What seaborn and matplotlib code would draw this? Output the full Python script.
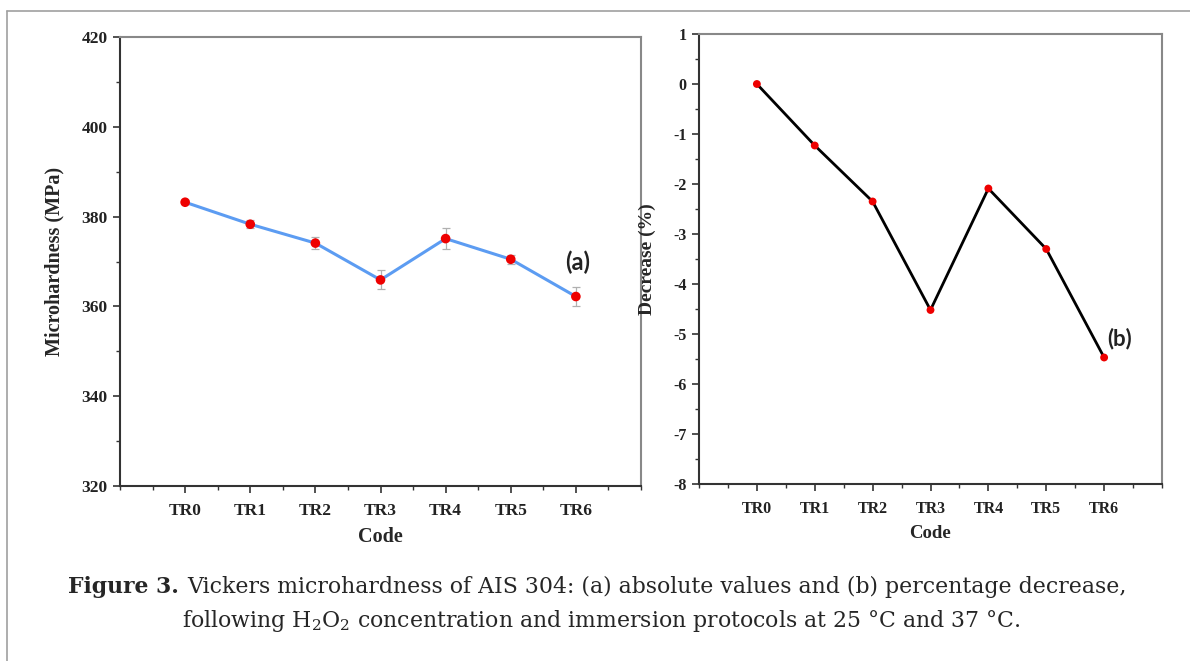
import matplotlib
matplotlib.use("Agg")
import matplotlib.pyplot as plt
import seaborn as sns
import pandas as pd
from matplotlib.lines import Line2D
from matplotlib.ticker import MultipleLocator

codes = ["TR0", "TR1", "TR2", "TR3", "TR4", "TR5", "TR6"]
hardness = [383.2, 378.3, 374.1, 365.9, 375.1, 370.5, 362.2]
hardness_err = [0.5, 0.9, 1.3, 2.1, 2.3, 1.0, 2.1]
decrease = [0.0, -1.23, -2.35, -4.52, -2.09, -3.30, -5.47]

sns.set_theme(style="ticks")
plt.rcParams["font.family"] = ["Liberation Serif", "DejaVu Serif"]
plt.rcParams["mathtext.fontset"] = "dejavuserif"
plt.rcParams["axes.unicode_minus"] = False

df = pd.DataFrame({"Code": codes, "Hardness": hardness, "Err": hardness_err, "Decrease": decrease})

fig = plt.figure(figsize=(11.9, 6.61), dpi=100)
fig.patch.set_facecolor("white")

# page border lines
fig.add_artist(Line2D([7/1190, 7/1190], [0, 1 - 11/661], transform=fig.transFigure, color="#a0a0a0", lw=1.2))
fig.add_artist(Line2D([7/1190, 1], [1 - 11/661, 1 - 11/661], transform=fig.transFigure, color="#a0a0a0", lw=1.2))

axA = fig.add_axes([120/1190, 1 - 486/661, 521/1190, 449/661])
axB = fig.add_axes([699/1190, 1 - 484/661, 463/1190, 450/661])

# panel (a)
axA.errorbar(range(len(codes)), df["Hardness"], yerr=df["Err"], fmt="none",
             ecolor="#b0b0b0", elinewidth=0.9, capsize=3, capthick=0.9, zorder=1)
sns.lineplot(data=df, x="Code", y="Hardness", ax=axA, color="#5c9cf2", lw=2.2, sort=False, zorder=2)
sns.scatterplot(data=df, x="Code", y="Hardness", ax=axA, color="#ee0000", s=48, edgecolor="none", zorder=3)
axA.set_ylim(320, 420)
axA.yaxis.set_major_locator(MultipleLocator(20))
axA.yaxis.set_minor_locator(MultipleLocator(10))
axA.set_ylabel("Microhardness (MPa)", fontsize=14.5, fontweight="bold", labelpad=12)
axA.text(5.84, 369.9, "(a)", fontsize=17, fontweight="bold", family="Lato", color="#222222", va="center")

# panel (b)
sns.lineplot(data=df, x="Code", y="Decrease", ax=axB, color="black", lw=2.0, sort=False, zorder=2)
sns.scatterplot(data=df, x="Code", y="Decrease", ax=axB, color="#ee0000", s=32, edgecolor="none", zorder=3)
axB.set_ylim(-8, 1)
axB.yaxis.set_major_locator(MultipleLocator(1))
axB.yaxis.set_minor_locator(MultipleLocator(0.5))
axB.set_ylabel("Decrease (%)", fontsize=14, fontweight="bold", labelpad=12)
axB.text(6.05, -5.1, "(b)", fontsize=16, fontweight="bold", family="Lato", color="#222222", va="center")

sizes = {axA: (12.5, 14.5), axB: (11.5, 13.5)}
for ax in (axA, axB):
    tsz, csz = sizes[ax]
    ax.set_xlim(-1, 7)
    ax.set_xticks(range(len(codes)))
    ax.set_xticklabels(codes)
    ax.xaxis.set_minor_locator(MultipleLocator(0.5))
    ax.set_xlabel("Code", fontsize=csz, fontweight="bold", labelpad=6)
    ax.tick_params(axis="both", which="major", direction="out", length=5, width=1.2,
                   color="#333333", pad=4, labelsize=tsz, labelcolor="#222222")
    ax.tick_params(axis="both", which="minor", direction="out", length=3, width=1.0, color="#333333")
    ax.tick_params(axis="x", which="major", pad=7)
    for lab in ax.get_xticklabels() + ax.get_yticklabels():
        lab.set_fontweight("bold")
    for side in ("left", "bottom"):
        ax.spines[side].set_color("#333333")
        ax.spines[side].set_linewidth(1.5)
    for side in ("top", "right"):
        ax.spines[side].set_visible(True)
        ax.spines[side].set_color("#888888")
        ax.spines[side].set_linewidth(1.5)
    ax.set_facecolor("white")

# caption
capfont = dict(fontsize=15.8, family="DejaVu Serif")
y1 = 1 - 593/661
t1 = fig.text(68/1190, y1, "Figure 3.", fontweight="bold", va="baseline", **capfont)
fig.canvas.draw()
r = fig.canvas.get_renderer()
bb = t1.get_window_extent(r)
x_next = (bb.x1 + 8) / fig.bbox.width
fig.text(x_next, y1, "Vickers microhardness of AIS 304: (a) absolute values and (b) percentage decrease,",
         va="baseline", **capfont)
fig.text(601/1190, 1 - 627/661,
         r"following H$_2$O$_2$ concentration and immersion protocols at 25 °C and 37 °C.",
         ha="center", va="baseline", **capfont)

fig.savefig("out.png", dpi=100, facecolor="white")
